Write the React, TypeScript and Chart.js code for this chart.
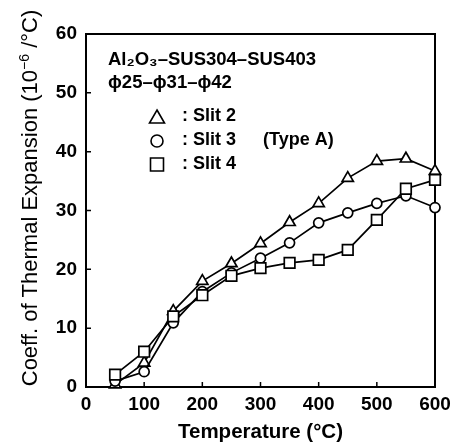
import React, { useEffect, useRef } from 'react';
import { Chart, registerables } from 'chart.js';

Chart.register(...registerables);

const temperatures = [50, 100, 150, 200, 250, 300, 350, 400, 450, 500, 550, 600];
const slit2 = [0.4, 4.1, 12.9, 18.0, 21.0, 24.4, 28.0, 31.2, 35.5, 38.4, 38.8, 36.7];
const slit3 = [1.0, 2.6, 10.9, 16.2, 19.4, 21.9, 24.5, 27.9, 29.6, 31.2, 32.5, 30.5];
const slit4 = [2.1, 6.0, 12.0, 15.6, 18.9, 20.2, 21.1, 21.6, 23.3, 28.4, 33.7, 35.2];
const xTickValues = [100, 200, 300, 400, 500];
const yTickValues = [10, 20, 30, 40, 50];

const FONT = '"Liberation Sans", Arial, sans-serif';

const framePlugin = {
  id: 'frame',
  beforeDatasetsDraw(chart: any) {
    const { ctx, chartArea } = chart;
    const { left, right, top, bottom } = chartArea;
    const xs = chart.scales.x;
    const ys = chart.scales.y;
    ctx.save();
    ctx.strokeStyle = '#000';
    ctx.lineWidth = 2;
    ctx.strokeRect(left, top, right - left, bottom - top);
    ctx.lineWidth = 1.5;
    ctx.beginPath();
    xTickValues.forEach((v) => {
      const px = xs.getPixelForValue(v);
      ctx.moveTo(px, bottom);
      ctx.lineTo(px, bottom - 5);
    });
    yTickValues.forEach((v) => {
      const py = ys.getPixelForValue(v);
      ctx.moveTo(left, py);
      ctx.lineTo(left + 5, py);
    });
    ctx.stroke();
    ctx.restore();
  },
  afterDraw(chart: any) {
    const { ctx, chartArea } = chart;
    const { left, top } = chartArea;
    ctx.save();
    ctx.fillStyle = '#000';
    ctx.strokeStyle = '#000';

    // Y axis title (manual, with superscript)
    const mainFont = `22px ${FONT}`;
    const supFont = `14px ${FONT}`;
    const p1 = 'Coeff. of Thermal Expansion (10';
    const p2 = '\u22126';
    const p3 = ' /\u00b0C)';
    ctx.font = mainFont;
    const w1 = ctx.measureText(p1).width;
    const w3 = ctx.measureText(p3).width;
    ctx.font = supFont;
    const w2 = ctx.measureText(p2).width;
    const total = w1 + w2 + w3;
    ctx.translate(37, 198);
    ctx.rotate(-Math.PI / 2);
    ctx.textBaseline = 'alphabetic';
    ctx.textAlign = 'left';
    let cx = -total / 2;
    ctx.font = mainFont;
    ctx.fillText(p1, cx, 0);
    cx += w1;
    ctx.font = supFont;
    ctx.fillText(p2, cx, -8);
    cx += w2;
    ctx.font = mainFont;
    ctx.fillText(p3, cx, 0);
    ctx.setTransform(1, 0, 0, 1, 0, 0);

    // In-plot legend
    ctx.lineWidth = 1.6;
    ctx.textBaseline = 'middle';
    ctx.textAlign = 'left';
    ctx.font = `bold 18.5px ${FONT}`;
    ctx.fillText('Al\u2082O\u2083\u2013SUS304\u2013SUS403', left + 22, top + 26);
    ctx.fillText('\u03d525\u2013\u03d531\u2013\u03d542', left + 22, top + 49);
    const mx = left + 71;
    const tx = left + 96;
    const rows = [top + 82, top + 106, top + 130];
    ctx.font = `bold 18px ${FONT}`;
    ctx.beginPath();
    ctx.moveTo(mx, rows[0] - 6);
    ctx.lineTo(mx + 7.5, rows[0] + 7);
    ctx.lineTo(mx - 7.5, rows[0] + 7);
    ctx.closePath();
    ctx.stroke();
    ctx.fillText(': Slit 2', tx, rows[0]);
    ctx.beginPath();
    ctx.arc(mx, rows[1] + 1, 6, 0, Math.PI * 2);
    ctx.stroke();
    ctx.fillText(': Slit 3', tx, rows[1]);
    ctx.fillText('(Type A)', left + 177, rows[1]);
    ctx.beginPath();
    ctx.rect(mx - 6.5, rows[2] - 6, 13, 13);
    ctx.stroke();
    ctx.fillText(': Slit 4', tx, rows[2]);
    ctx.restore();
  },
};

export default function App() {
  const ref = useRef<HTMLCanvasElement>(null);
  useEffect(() => {
    document.body.style.margin = '0';
    const common = {
      borderColor: '#000',
      borderWidth: 1.7,
      pointBackgroundColor: '#fff',
      pointBorderColor: '#000',
      pointBorderWidth: 1.7,
      fill: false,
      tension: 0,
      clip: false as any,
    };
    const chart = new Chart(ref.current!, {
      type: 'line',
      data: {
        labels: temperatures,
        datasets: [
          { ...common, label: 'Slit 4', data: temperatures.map((t, i) => ({ x: t, y: slit4[i] })), pointStyle: 'rect', pointRadius: 7.5 },
          { ...common, label: 'Slit 3', data: temperatures.map((t, i) => ({ x: t, y: slit3[i] })), pointStyle: 'circle', pointRadius: 5 },
          { ...common, label: 'Slit 2', data: temperatures.map((t, i) => ({ x: t, y: slit2[i] })), pointStyle: 'triangle', pointRadius: 6.5 },
        ],
      },
      options: {
        responsive: false,
        animation: false,
        layout: { padding: { left: 0, top: 34, right: 27, bottom: 0 } },
        plugins: { legend: { display: false }, tooltip: { enabled: false } },
        scales: {
          x: {
            type: 'linear',
            min: 0,
            max: 600,
            grid: { display: false, drawTicks: false },
            border: { display: false },
            ticks: { stepSize: 100, color: '#000', padding: 6, maxRotation: 0, font: { family: FONT, size: 19, weight: 'bold' } },
            title: { display: true, text: 'Temperature (\u00b0C)', color: '#000', padding: { top: 0, bottom: 0 }, font: { family: FONT, size: 20.5, weight: 'bold', lineHeight: 1.15 } },
            afterFit: (s: any) => { s.height = 57; },
          },
          y: {
            type: 'linear',
            min: 0,
            max: 60,
            grid: { display: false, drawTicks: false },
            border: { display: false },
            ticks: { stepSize: 10, color: '#000', padding: 9, font: { family: FONT, size: 19, weight: 'bold' } },
            afterFit: (s: any) => { s.width = 86; },
          },
        },
      },
      plugins: [framePlugin],
    });
    return () => chart.destroy();
  }, []);
  return (
    <div style={{ position: 'relative', width: 462, height: 444 }}>
      <canvas ref={ref} width={462} height={444} style={{ display: 'block' }} />
    </div>
  );
}
